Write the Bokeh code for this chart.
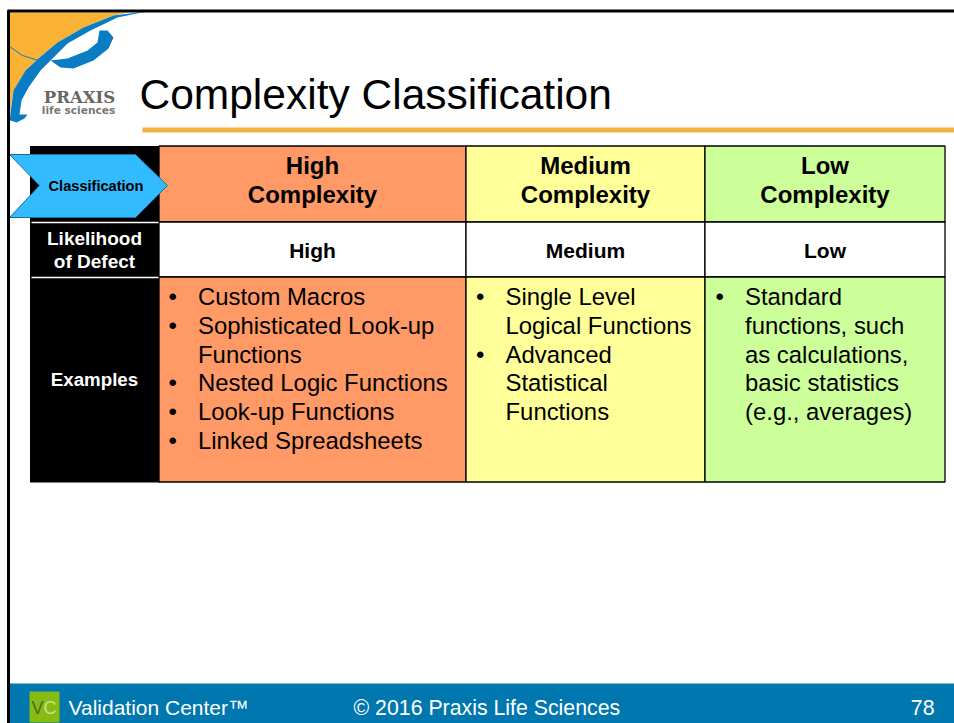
from bokeh.plotting import figure
from bokeh.models import Range1d
from bokeh.core.properties import value
from bokeh.embed import file_html
from bokeh.resources import INLINE

title = "Complexity Classification"
row_heads = ["Likelihood\nof Defect", "Examples"]
columns = ["High\nComplexity", "Medium\nComplexity", "Low\nComplexity"]
likelihood = ["High", "Medium", "Low"]
examples = [
    [("•", "Custom Macros"), ("•", "Sophisticated Look-up"), ("", "Functions"),
     ("•", "Nested Logic Functions"), ("•", "Look-up Functions"), ("•", "Linked Spreadsheets")],
    [("•", "Single Level"), ("", "Logical Functions"), ("•", "Advanced"),
     ("", "Statistical"), ("", "Functions")],
    [("•", "Standard"), ("", "functions, such"), ("", "as calculations,"),
     ("", "basic statistics"), ("", "(e.g., averages)")],
]
fills = ["#ff9966", "#ffff99", "#ccff99"]
footer = ["Validation Center™", "© 2016 Praxis Life Sciences", "78"]

FONT = value("Liberation Sans")
p = figure(width=954, height=723, x_range=Range1d(0, 954), y_range=Range1d(723, 0),
           output_backend="svg", toolbar_location=None, min_border=0,
           x_axis_type=None, y_axis_type=None, outline_line_color=None,
           background_fill_color="white", border_fill_color="white")
p.grid.visible = False

def txt(x, y, s, size, color="black", style="normal", align="left", font=FONT):
    p.text([x], [y], text=[s], text_font=font, text_font_size=f"{size}px",
           text_color=color, text_font_style=style, text_align=align,
           text_baseline="middle")

# logo
BLUE = "#0a7cc4"
p.patch([9, 128, 113, 83, 57, 38, 25, 13, 9], [12, 12, 15, 27, 42, 58, 70, 90, 115],
        fill_color="#f9b233", line_color=None)
p.patch([9, 10, 13, 25, 38, 57, 83, 113, 146, 117, 90, 67, 50, 40, 28, 21, 19, 27, 24, 16, 10, 9],
        [122, 112, 90, 70, 58, 42, 27, 15, 11, 17, 30, 43, 60, 70, 87, 100, 114, 114, 118, 122, 120, 122],
        fill_color=BLUE, line_color=None)
p.patch([50, 67, 87, 97, 99, 107, 113, 108, 93, 73, 60, 50],
        [60, 58, 50, 42, 30, 30, 37, 48, 60, 68, 67, 60],
        fill_color=BLUE, line_color=None)
p.line([9, 22, 38], [46, 55, 60], line_color=BLUE, line_width=1)
txt(79, 97, "PRAXIS", 16.5, "#666666", "bold", "center", value("DejaVu Serif"))
txt(78, 109.5, "life sciences", 10.6, "#777777", "bold", "center", value("DejaVu Sans"))

# title
txt(139, 94, title, 42.5)
p.quad(left=[142], right=[954], top=[127], bottom=[132], fill_color="#f4b03e", line_color=None)

# table
X = [158.5, 465.5, 704.5, 944.5]
Y = [145.5, 221.5, 276.5, 481.5]
BODY_SHIFT = [0, 0.5, 1]
p.quad(left=[29.5], right=[159], top=[145.5], bottom=[482], fill_color="black", line_color=None)
for i in range(3):
    p.quad(left=[X[i]], right=[X[i + 1]], top=[Y[0]], bottom=[Y[1]],
           fill_color=fills[i], line_color="black", line_width=1.3)
    p.quad(left=[X[i]], right=[X[i + 1]], top=[Y[1]], bottom=[Y[2]],
           fill_color="white", line_color="black", line_width=1.3)
    p.quad(left=[X[i]], right=[X[i + 1]], top=[Y[2]], bottom=[Y[3]],
           fill_color=fills[i], line_color="black", line_width=1.3)
    cx = (X[i] + X[i + 1]) / 2
    head = columns[i].split("\n")
    txt(cx, 165, head[0], 24, style="bold", align="center")
    txt(cx, 194, head[1], 24, style="bold", align="center")
    txt(cx, 250, likelihood[i], 21, style="bold", align="center")
    for k, (b, s) in enumerate(examples[i]):
        y = 296 + k * 28.8
        if b:
            txt(X[i] + 9.5 + BODY_SHIFT[i], y, b, 24)
        txt(X[i] + 39 + BODY_SHIFT[i], y, s, 23.9)

p.line([31, 158], [222, 222], line_color="white", line_width=1.5)
p.line([31, 158], [277, 277], line_color="white", line_width=1.5)
lh = row_heads[0].split("\n")
txt(94, 238, lh[0], 19, "white", "bold", "center")
txt(94, 261, lh[1], 19, "white", "bold", "center")
txt(94, 379, row_heads[1], 18.7, "white", "bold", "center")

# arrow
p.patch([9, 135, 167, 135, 9, 39], [154, 154, 185, 217, 217, 185],
        fill_color="#33bbff", line_color="#1a6f9c", line_width=1)
txt(95.5, 185, "Classification", 14.6, "black", "bold", "center")

# footer
p.quad(left=[8], right=[954], top=[683], bottom=[723], fill_color="#0077ae", line_color=None)
p.quad(left=[29], right=[59], top=[691], bottom=[722], fill_color="#86bc14", line_color=None)
txt(31, 707, "V", 18, "#4d6b16")
txt(43, 707, "C", 18, "#c9e08a")
txt(68, 707, footer[0], 21, "white")
txt(353, 707, footer[1], 21.3, "white")
txt(934, 707, footer[2], 21.3, "white", align="right")

# slide border
p.line([8, 8], [723, 10], line_color="black", line_width=3)
p.line([7, 954], [10.5, 10.5], line_color="black", line_width=3)

open("out.html", "w").write(file_html(p, INLINE))
